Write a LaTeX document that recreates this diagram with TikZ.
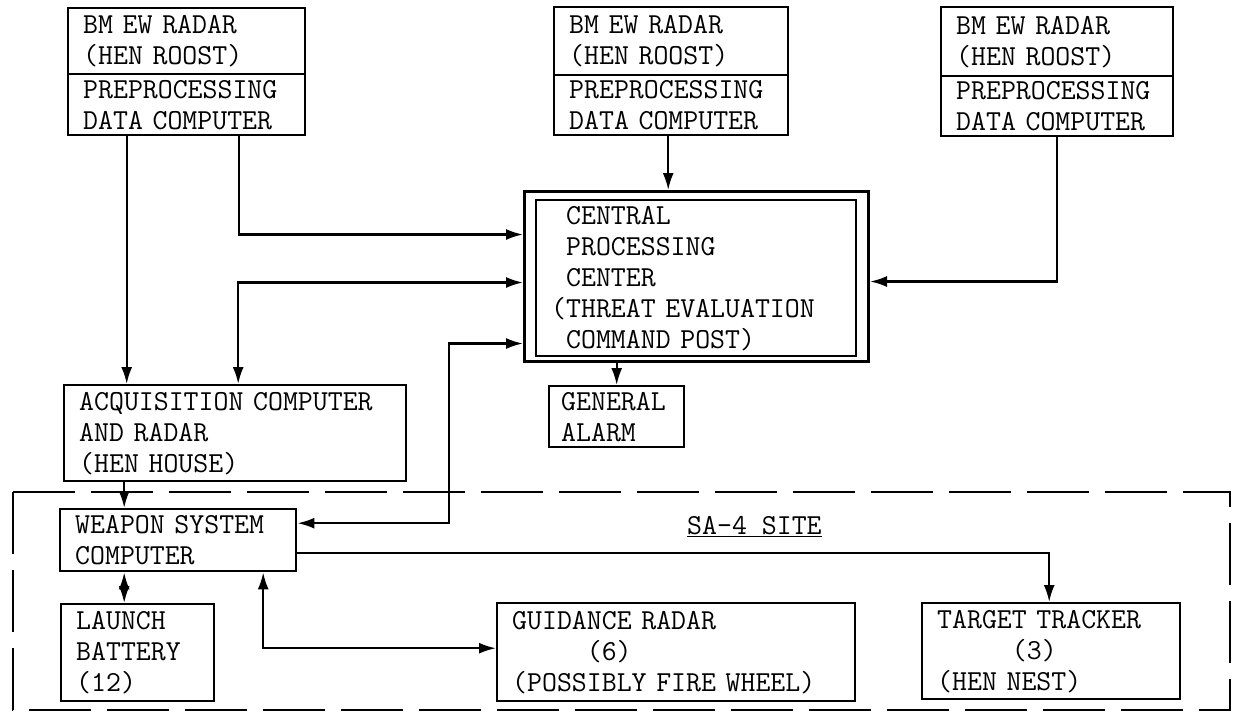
\documentclass[tikz,border=0pt]{standalone}
\usepackage{tikz}
\usetikzlibrary{calc, arrows.meta, positioning}

\tikzset{
  box/.style={draw, line width=2.4pt, anchor=north west, align=left,
    inner xsep=15pt, inner ysep=1pt, font=\ttfamily\fontsize{29}{31}\selectfont},
  frame/.style={draw, line width=3pt, anchor=north west},
  link/.style={line width=2.2pt},
  sitebox/.style={line width=2.4pt, dash pattern=on 62pt off 16pt},
}

\begin{document}
\begin{tikzpicture}[x=1pt, y=-1pt, >={Latex[length=17pt,width=11pt]}]
    \useasboundingbox (0,0) rectangle (1233,713);

    % BM EW radars
    \node[box, text width=207pt, minimum height=66pt] (ewa) at (67,7) {BM EW RADAR\\(HEN ROOST)};
    \node[box, text width=207pt, minimum height=61pt] (ppa) at (67,73) {PREPROCESSING\\DATA COMPUTER};
    \node[box, text width=204pt, minimum height=68pt] (ewb) at (553,6) {BM EW RADAR\\(HEN ROOST)};
    \node[box, text width=204pt, minimum height=60pt] (ppb) at (553,74) {PREPROCESSING\\DATA COMPUTER};
    \node[box, text width=202pt, minimum height=69pt] (ewc) at (940,6) {BM EW RADAR\\(HEN ROOST)};
    \node[box, text width=202pt, minimum height=60pt] (ppc) at (940,75) {PREPROCESSING\\DATA COMPUTER};

    % Central processing center
    \node[frame, minimum width=344pt, minimum height=170pt] (cpo) at (523,190) {};
    \node[box, text width=290pt, minimum height=156pt] (cpc) at (535,199)
        {\hphantom{(}CENTRAL\\\hphantom{(}PROCESSING\\\hphantom{(}CENTER\\(THREAT EVALUATION\\\hphantom{(}COMMAND POST)};
    \node[box, inner xsep=12pt, text width=111pt, minimum height=61pt] (alarm) at (548,385) {GENERAL\\ALARM};

    % Acquisition
    \node[box, text width=312pt, minimum height=96pt] (acq) at (63,384) {ACQUISITION COMPUTER\\AND RADAR\\(HEN HOUSE)};

    % SA-4 site
    \draw[sitebox] (13,492) rectangle (1230,710);
    \node[anchor=west, inner sep=0pt, font=\ttfamily\fontsize{29}{31}\selectfont] (site) at (687,527) {\underline{SA-4 SITE}};
    \node[box, text width=206pt, minimum height=62pt] (wsc) at (59,508) {WEAPON SYSTEM\\COMPUTER};
    \node[box, text width=123pt, minimum height=97pt] (lb) at (60,603) {LAUNCH\\BATTERY\\(12)};
    \node[box, text width=328pt, minimum height=98pt] (gr) at (496,602) {GUIDANCE RADAR\\\hphantom{GUIDA}(6)\\(POSSIBLY FIRE WHEEL)};
    \node[box, text width=228pt, minimum height=96pt] (tt) at (921,602) {TARGET TRACKER\\\hphantom{TARGE}(3)\\(HEN NEST)};

    % Connectors
    \draw[link,->] ([xshift=-60pt]ppa.south) -- ([xshift=-60pt]ppa.south |- acq.north);
    \draw[link,->] ([xshift=52pt]ppa.south) |- ([yshift=42pt]cpo.west);
    \draw[link,->] ([xshift=-3pt]ppb.south) -- ([xshift=-3pt]ppb.south |- cpo.north);
    \draw[link,->] (ppc.south) |- ([yshift=-5pt]cpo.east);
    \draw[link,<->] ([yshift=-6pt]cpo.west) -| ([xshift=3pt]acq.north);
    \draw[link,<->] ([yshift=17pt]wsc.east) -| ([xshift=-74pt,yshift=-67pt]cpo.west) -- ([yshift=-67pt]cpo.west);
    \draw[link,->] (alarm.north |- cpo.south) -- (alarm.north);
    \draw[link,->] ([xshift=-54pt]wsc.north |- acq.south) -- ([xshift=-54pt]wsc.north);
    \draw[link,<->] ([xshift=-54pt]wsc.south) -- ([xshift=-54pt]wsc.south |- lb.north);
    \draw[link,<->] ([xshift=85pt]wsc.south) |- ([yshift=4pt]gr.west);
    \draw[link,->] ([yshift=-13pt]wsc.east) -| ([xshift=-2pt]tt.north);
\end{tikzpicture}
\end{document}
